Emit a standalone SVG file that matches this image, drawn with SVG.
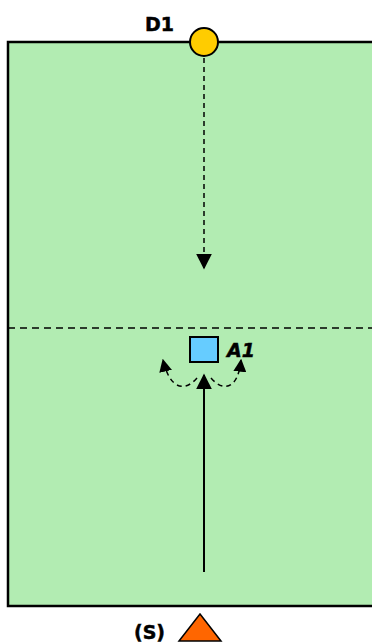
<svg xmlns="http://www.w3.org/2000/svg" width="372" height="644" viewBox="0 0 372 644">
<defs>
<style>
.lbl{font-family:"DejaVu Sans","Liberation Sans",sans-serif;font-weight:bold;font-size:19px;fill:#000;stroke:#000;stroke-width:0.5}
.dash{fill:none;stroke:#000;stroke-width:1.5;stroke-dasharray:5,4}
</style>
<marker id="ah" viewBox="0 0 10 10" refX="9" refY="5" markerWidth="13" markerHeight="13" markerUnits="userSpaceOnUse" orient="auto">
<path d="M0,0 L10,5 L0,10 z" fill="#000"/>
</marker>
<marker id="ahb" viewBox="0 0 10 10" refX="9" refY="5" markerWidth="16" markerHeight="16" markerUnits="userSpaceOnUse" orient="auto">
<path d="M0,0 L10,5 L0,10 z" fill="#000"/>
</marker>
</defs>
<g id="field">
<rect x="8" y="42" width="370" height="564" fill="#b2ecb2" stroke="#000" stroke-width="2.5"/>
<line x1="8" y1="328" x2="372" y2="328" stroke="#000" stroke-width="1.5" stroke-dasharray="7,5"/>
</g>
<g id="connectors">
<line x1="204" y1="58" x2="204" y2="268" class="dash" marker-end="url(#ahb)"/>
<line x1="204" y1="572" x2="204" y2="375" stroke="#000" stroke-width="2" marker-end="url(#ahb)"/>
<path d="M197,378 C185,392 170,390 163,360" class="dash" marker-end="url(#ah)"/>
<path d="M211,378 C223,392 238,390 241,360" class="dash" marker-end="url(#ah)"/>
</g>
<g id="D1">
<circle cx="204" cy="42" r="14" fill="#ffcc00" stroke="#000" stroke-width="2"/>
<text x="145" y="31" class="lbl">D1</text>
</g>
<g id="A1">
<rect x="190" y="337" width="28" height="25" fill="#66ccff" stroke="#000" stroke-width="2"/>
<text x="227" y="357" class="lbl" font-style="italic">A1</text>
</g>
<g id="S">
<polygon points="200,614 221,641 179,641" fill="#ff6600" stroke="#000" stroke-width="1.5"/>
<text x="134" y="639" class="lbl">(S)</text>
</g>
</svg>
